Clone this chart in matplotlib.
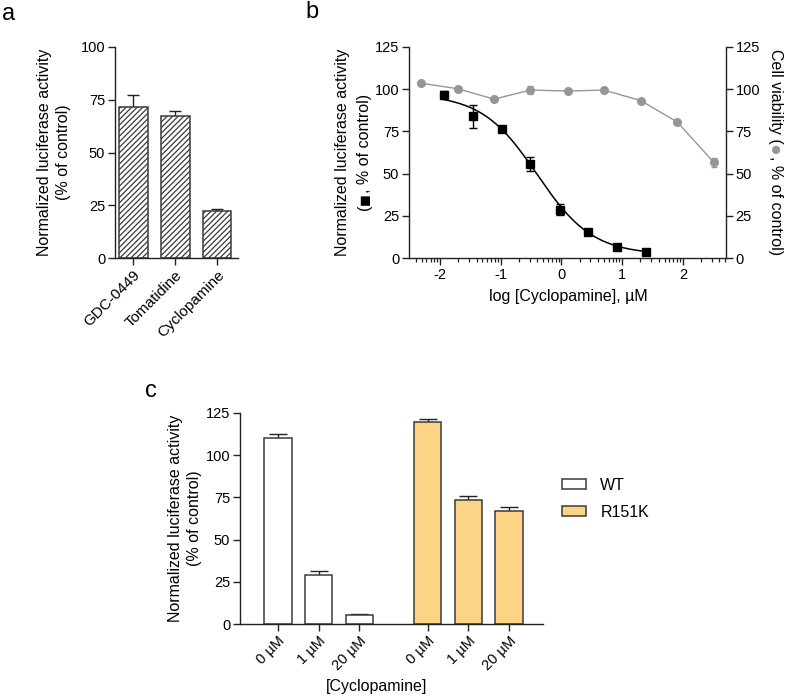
import numpy as np
import matplotlib
matplotlib.use("Agg")
import matplotlib.pyplot as plt
from matplotlib.patches import Patch

plt.rcParams['font.family'] = ['Liberation Sans', 'DejaVu Sans']
plt.rcParams['hatch.linewidth'] = 0.9
plt.rcParams['hatch.color'] = '#2a2a2a'

# ---------------- data ----------------
a_labels = ['GDC-0449', 'Tomatidine', 'Cyclopamine']
a_values = [71.5, 67.2, 22.5]
a_errors = [5.7, 2.4, 0.7]

b_luc_logx = [-1.94, -1.46, -0.98, -0.51, -0.03, 0.44, 0.92, 1.40]
b_luc_values = [96.7, 83.9, 76.7, 55.8, 28.7, 15.6, 6.5, 3.4]
b_luc_errors = [2.0, 7.0, 1.0, 4.0, 3.3, 1.5, 1.0, 0.8]
b_fit_top, b_fit_bottom, b_fit_logic50, b_fit_hill = 97.0, 2.0, -0.40, 0.95

b_via_logx = [-2.32, -1.71, -1.11, -0.51, 0.10, 0.70, 1.31, 1.91, 2.51]
b_via_values = [103.6, 100.3, 94.1, 99.5, 98.9, 99.5, 93.2, 80.5, 56.6]
b_via_errors = [0.8, 0.8, 0.8, 2.5, 0.8, 0.8, 0.8, 1.0, 2.5]

c_tick_labels = ['0 µM', '1 µM', '20 µM', '0 µM', '1 µM', '20 µM']
c_groups = ['WT', 'R151K']
c_wt_values = [110.4, 29.0, 5.3]
c_wt_errors = [2.0, 2.2, 0.4]
c_r_values = [119.5, 73.3, 66.8]
c_r_errors = [2.0, 2.6, 2.6]

W, H = 787, 700
fig = plt.figure(figsize=(W / 100, H / 100), dpi=100)
renderer = fig.canvas.get_renderer()

def add_ax(l, t, r, b):
    return fig.add_axes([l / W, 1 - b / H, (r - l) / W, (b - t) / H])

SP = '#222222'
FS_TICK = 10.5
FS_LAB = 11.5
ORANGE = '#FDD485'
EDGE = '#3a3a3a'
GRAY = '#969696'

def style(ax, right=False):
    for s in (['top', 'right'] if not right else ['top', 'left']):
        ax.spines[s].set_visible(False)
    for s in ax.spines.values():
        s.set_color(SP)
        s.set_linewidth(1.0)
    ax.tick_params(direction='out', length=5, width=1.0, color=SP, labelsize=FS_TICK, pad=2)

def up_errorbar(ax, x, y, e, capsize):
    eb = ax.errorbar(x, y, yerr=[np.zeros(len(e)), e], fmt='none', ecolor=SP,
                     elinewidth=1.0, capsize=capsize, capthick=1.0, zorder=1)
    eb[1][0].set_visible(False)

def rotated_parts(xc, yc, parts, rot):
    """Place text parts (text, color, size, shift_px) on a common baseline of a
    rotated line, centred at pixel (xc, yc)."""
    objs = []
    for s, c, fs, _ in parts:
        objs.append(fig.text(0, 0, s, rotation=rot, color=c, ha='left', va='baseline',
                             rotation_mode='anchor', fontsize=fs))
    hs = [t.get_window_extent(renderer).height for t in objs]
    total = sum(hs)
    off = 0.36 * FS_LAB * 100 / 72
    sign = 1 if rot == 90 else -1
    xb = xc + sign * off
    y = (H - yc) - sign * total / 2
    for t, h, p in zip(objs, hs, parts):
        t.set_position(((xb + sign * p[3]) / W, y / H))
        y += sign * h

# ---------------- panel a ----------------
axa = add_ax(115, 47, 238, 258)
style(axa)
xa = np.arange(len(a_labels))
up_errorbar(axa, xa, a_values, a_errors, 4.5)
axa.bar(xa, a_values, width=0.69, color='white', edgecolor=EDGE, linewidth=1.1,
        hatch='//////', zorder=2)
axa.set_xlim(-0.43, 2.5)
axa.set_ylim(0, 100)
axa.set_yticks([0, 25, 50, 75, 100])
axa.set_xticks(xa)
axa.set_xticklabels(a_labels, rotation=45, ha='right', rotation_mode='anchor', fontsize=11)

# ---------------- panel b ----------------
axb = add_ax(409, 47, 726, 258)
style(axb)
axb.spines['right'].set_visible(False)
axb2 = axb.twinx()
axb2.set_position(axb.get_position())
style(axb2, right=True)
axb2.spines['bottom'].set_visible(False)

xlim_b = (-2.51, 2.71)
axb.set_xlim(*xlim_b)
axb.set_ylim(0, 125)
axb2.set_ylim(0, 125)
axb.set_yticks([0, 25, 50, 75, 100, 125])
axb2.set_yticks([0, 25, 50, 75, 100, 125])
axb.set_xticks([-2, -1, 0, 1, 2])
minor = [n + np.log10(k) for n in range(-3, 3) for k in range(2, 10)
         if xlim_b[0] <= n + np.log10(k) <= xlim_b[1]]
axb.set_xticks(minor, minor=True)
axb.tick_params(axis='x', which='minor', length=3, width=0.9, color=SP)
axb.set_xticklabels(['-2', '-1', '0', '1', '2'])

axb2.errorbar(b_via_logx, b_via_values, yerr=b_via_errors, fmt='-o', color=GRAY,
              ms=5.5, lw=1.0, ecolor=GRAY, elinewidth=1.0, capsize=2.5, zorder=2)

xf = np.linspace(b_luc_logx[0], b_luc_logx[-1], 300)
yf = b_fit_bottom + (b_fit_top - b_fit_bottom) / (1 + 10 ** ((xf - b_fit_logic50) * b_fit_hill))
axb.plot(xf, yf, color='black', lw=1.1, zorder=3)
axb.errorbar(b_luc_logx, b_luc_values, yerr=b_luc_errors, fmt='s', color='black',
             ms=6, ecolor='black', elinewidth=1.0, capsize=3, zorder=4)
axb.set_zorder(axb2.get_zorder() + 1)
axb.patch.set_visible(False)

fig.text(568 / W, 1 - 297 / H, 'log [Cyclopamine], µM', ha='center', va='center',
         fontsize=FS_LAB)

# ---------------- panel c ----------------
axc = add_ax(240, 413, 543, 624)
style(axc)
xw = np.array([0, 1, 2])
xr = np.array([3.67, 4.67, 5.67])
up_errorbar(axc, xw, c_wt_values, c_wt_errors, 6.5)
up_errorbar(axc, xr, c_r_values, c_r_errors, 6.5)
axc.bar(xw, c_wt_values, width=0.67, color='white', edgecolor=EDGE, linewidth=1.1, zorder=2)
axc.bar(xr, c_r_values, width=0.67, color=ORANGE, edgecolor=EDGE, linewidth=1.1, zorder=2)
axc.set_xlim(-0.93, 6.5)
axc.set_ylim(0, 125)
axc.set_yticks([0, 25, 50, 75, 100, 125])
axc.set_xticks(np.concatenate([xw, xr]))
axc.set_xticklabels(c_tick_labels, rotation=45, ha='right', rotation_mode='anchor')
fig.text(377 / W, 1 - 687 / H, '[Cyclopamine]', ha='center', va='center', fontsize=FS_LAB)

handles = [Patch(facecolor='white', edgecolor=EDGE, linewidth=1.1),
           Patch(facecolor=ORANGE, edgecolor=EDGE, linewidth=1.1)]
fig.legend(handles, c_groups, loc='upper left', bbox_to_anchor=(562 / W, 1 - 478 / H),
           frameon=False, fontsize=11.5, handlelength=1.5, handleheight=0.6,
           handletextpad=0.9, labelspacing=0.75, borderpad=0, borderaxespad=0)

# ---------------- y labels ----------------
def ylab(xc, yc, s, rot=90):
    fig.text(xc / W, 1 - yc / H, s, rotation=rot, ha='center', va='center',
             fontsize=FS_LAB, linespacing=1.3, multialignment='center')

ylab(54, 152, 'Normalized luciferase activity\n(% of control)')
ylab(185, 518, 'Normalized luciferase activity\n(% of control)')

# panel b left label: two lines, second one with a large black square
rotated_parts(341, 152, [('Normalized luciferase activity', 'black', FS_LAB, 0)], 90)
rotated_parts(363, 152, [('(', 'black', FS_LAB, 0), ('\u25A0', 'black', 14, 2.5),
                         (', % of control)', 'black', FS_LAB, 0)], 90)

# right label with a large gray dot, reading top to bottom
rotated_parts(777, 152, [('Cell viability (', 'black', FS_LAB, 0), ('\u25CF', GRAY, 14, 2.5),
                         (', % of control)', 'black', FS_LAB, 0)], -90)

# ---------------- panel letters ----------------
for s, x, y in [('a', 2, 3), ('b', 305, 1), ('c', 145, 380)]:
    fig.text(x / W, 1 - y / H, s, ha='left', va='top', fontsize=17)

fig.savefig('out.png', dpi=100)
